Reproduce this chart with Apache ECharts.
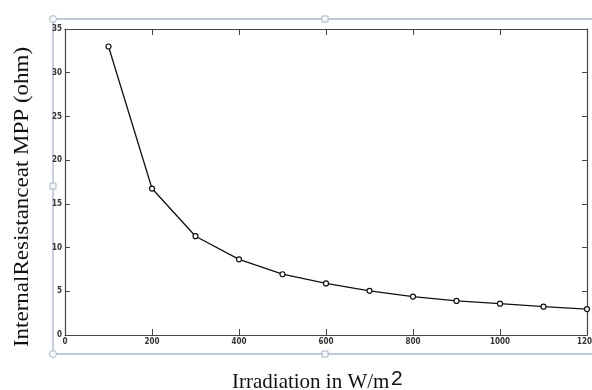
<!DOCTYPE html>
<html><head><meta charset="utf-8">
<script src="https://cdn.jsdelivr.net/npm/echarts@6/dist/echarts.min.js"></script>
<style>html,body{margin:0;padding:0;background:#fff}#c{width:592px;height:390px}</style>
</head><body><div id="c"></div>
<script>
const irradiation = [100,200,300,400,500,600,700,800,900,1000,1100,1200];
const resistance = [33.0,16.75,11.3,8.65,6.95,5.9,5.05,4.4,3.9,3.58,3.24,2.97];
const xTicks = [0,200,400,600,800,1000,1200];
const yTicks = [0,5,10,15,20,25,30,35];

const chart = echarts.init(document.getElementById('c'));
const lblFont = {fontFamily:'"Liberation Sans Narrow","DejaVu Sans Condensed",sans-serif',fontWeight:'bold',fontSize:8,color:'#333',formatter:v=>String(v)};
const axLine = {onZero:false,lineStyle:{color:'#444',width:1.2}};
const frame = '#aab8c8';
chart.setOption({
  animation:false,
  grid:{left:65,right:5,top:29,bottom:55,outerBoundsMode:'none',containLabel:false},
  xAxis:[
    {type:'value',min:0,max:1200,interval:200,position:'bottom',
     axisLine:axLine,axisTick:{inside:true,length:6,lineStyle:{color:'#444'}},
     axisLabel:Object.assign({margin:3},lblFont),splitLine:{show:false}},
    {type:'value',min:0,max:1200,interval:200,position:'top',
     axisLine:axLine,axisTick:{inside:true,length:6,lineStyle:{color:'#444'}},
     axisLabel:{show:false},splitLine:{show:false}}
  ],
  yAxis:[
    {type:'value',min:0,max:35,interval:5,position:'left',
     axisLine:axLine,axisTick:{inside:true,length:5,lineStyle:{color:'#444'}},
     axisLabel:Object.assign({margin:3},lblFont),splitLine:{show:false}},
    {type:'value',min:0,max:35,interval:5,position:'right',
     axisLine:axLine,axisTick:{inside:true,length:5,lineStyle:{color:'#444'}},
     axisLabel:{show:false},splitLine:{show:false}}
  ],
  series:[{type:'line',data:irradiation.map((x,i)=>[x,resistance[i]]),
    symbol:'circle',symbolSize:5,showAllSymbol:true,
    lineStyle:{color:'#111',width:1.3},
    itemStyle:{color:'#fff',borderColor:'#111',borderWidth:1.2}}],
  graphic:[
    {type:'polyline',shape:{points:[[600,19],[53,19],[53,354],[600,354]]},style:{stroke:frame,fill:null,lineWidth:1.3},z:-1},
    {type:'circle',shape:{cx:53,cy:19,r:3.5},style:{stroke:frame,fill:'#f4f8fc',lineWidth:1}},
    {type:'circle',shape:{cx:53,cy:354,r:3.5},style:{stroke:frame,fill:'#f4f8fc',lineWidth:1}},
    {type:'rect',shape:{x:50,y:183,width:6,height:6},style:{stroke:frame,fill:'#f4f8fc',lineWidth:1}},
    {type:'rect',shape:{x:322,y:16,width:6,height:6},style:{stroke:frame,fill:'#f4f8fc',lineWidth:1}},
    {type:'rect',shape:{x:322,y:351,width:6,height:6},style:{stroke:frame,fill:'#f4f8fc',lineWidth:1}},
    {type:'text',x:23,y:197,rotation:Math.PI/2,scaleX:1.15,
     style:{text:'InternalResistanceat MPP (ohm)',font:'20px "Liberation Serif",serif',fill:'#111',textAlign:'center',textVerticalAlign:'middle'}},
    {type:'text',x:232,y:393,
     style:{text:'Irradiation in W/m',font:'21px "Liberation Serif",serif',fill:'#111',textAlign:'left',textVerticalAlign:'bottom'}},
    {type:'text',x:391,y:390,
     style:{text:'2',font:'21px "Liberation Sans",sans-serif',fill:'#111',textAlign:'left',textVerticalAlign:'bottom'}}
  ]
});
</script></body></html>
